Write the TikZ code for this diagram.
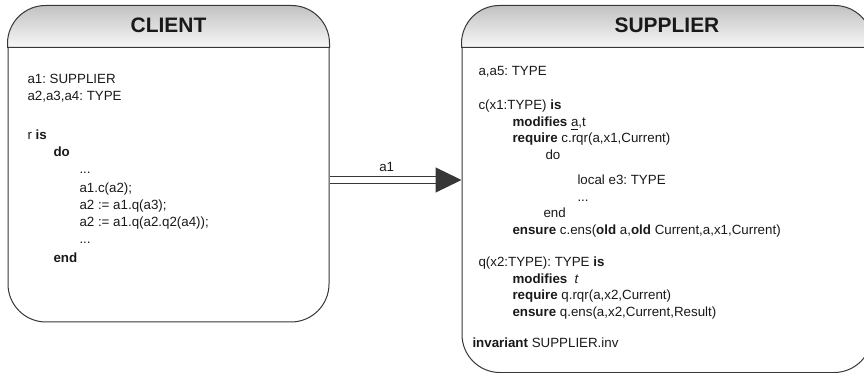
\documentclass[tikz,border=0pt]{standalone}
\usepackage{fontspec}
\setmainfont{Liberation Sans}
\usetikzlibrary{arrows.meta,positioning}
\frenchspacing

\tikzset{every picture/.style={line width=0.75pt}}
\definecolor{edge}{RGB}{55,55,55}
\definecolor{ink}{RGB}{25,25,25}
\tikzset{
  classbox/.style={draw=edge, rounded corners=28.5pt, inner sep=0pt},
  hdr/.style={top color=black!24, bottom color=black!3, draw=edge},
  title/.style={inner sep=0pt, text=ink, font=\fontsize{15.7}{18}\selectfont\bfseries},
  code/.style={anchor=base west, inner sep=0pt, text=ink, font=\fontsize{10}{12}\selectfont},
}

\begin{document}
\begin{tikzpicture}[x=0.75pt,y=0.75pt,yscale=-1,xscale=1]
\useasboundingbox (0,0) rectangle (864,373);

%Shape: Rounded boxes
\node [classbox, minimum width=240.75pt, minimum height=237pt] (client) at (168.5,164) {};
\node [classbox, minimum width=307.5pt, minimum height=274.9pt] (supplier) at (667,189.25) {};
%Shape: Header bands
\shade [hdr] ([yshift=31.5pt]client.north west) -- ([yshift=28.5pt]client.north west) arc [start angle=180, end angle=270, radius=28.5pt] -- ([xshift=-28.5pt]client.north east) arc [start angle=270, end angle=360, radius=28.5pt] -- ([yshift=31.5pt]client.north east) -- cycle;
\shade [hdr] ([yshift=31.5pt]supplier.north west) -- ([yshift=28.5pt]supplier.north west) arc [start angle=180, end angle=270, radius=28.5pt] -- ([xshift=-28.5pt]supplier.north east) arc [start angle=270, end angle=360, radius=28.5pt] -- ([yshift=31.5pt]supplier.north east) -- cycle;

% Titles
\node [title] (clientTitle) at ([yshift=15pt]client.north) {CLIENT};
\node [title] (supplierTitle) at ([yshift=15pt]supplier.north) {SUPPLIER};

%Straight Lines: association a1
\coordinate (arrowTip) at (supplier.west |- 0,180);
\coordinate (arrowBase) at ([xshift=-19.5pt]arrowTip);
\draw [edge, line width=0.9pt, double=white, double distance=4pt] (client.east |- 0,180) -- (arrowBase) node [pos=0.54, above=6pt, inner sep=0pt, text=ink, font=\fontsize{10}{12}\selectfont] (linkLabel) {a1};
\draw [edge, line width=0.9pt, -{Triangle[length=19.5pt,width=18.75pt]}] (arrowBase) -- (arrowTip);

% Text Node
\node [code] (c1) at (27,84) {a1: SUPPLIER};
% Text Node
\node [code] (c2) at (27,101) {a2,a3,a4: TYPE};
% Text Node
\node [code] (c3) at (27,140) {r \textbf{is}};
% Text Node
\node [code] (c4) at (53,157) {\textbf{do}};
% Text Node
\node [code] (c5) at (79,174) {...};
% Text Node
\node [code] (c6) at (79,193) {a1.c(a2);};
% Text Node
\node [code] (c7) at (79,210) {a2 := a1.q(a3);};
% Text Node
\node [code] (c8) at (79,227) {a2 := a1.q(a2.q2(a4));};
% Text Node
\node [code] (c9) at (79,244) {...};
% Text Node
\node [code] (c10) at (53,263) {\textbf{end}};

% Text Node
\node [code] (s1) at (478,76) {a,a5: TYPE};
% Text Node
\node [code] (s2) at (478,110) {c(x1:TYPE) \textbf{is}};
% Text Node
\node [code] (s3) at (512,127) {\textbf{modifies} \underline{a},t};
% Text Node
\node [code] (s4) at (512,143) {\textbf{require} c.rqr(a,x1,Current)};
% Text Node
\node [code] (s5) at (545,160) {do};
% Text Node
\node [code] (s6) at (577,185) {local e3: TYPE};
% Text Node
\node [code] (s7) at (577,202) {...};
% Text Node
\node [code] (s8) at (543,218) {end};
% Text Node
\node [code] (s9) at (512,235) {\textbf{ensure} c.ens(\textbf{old} a,\textbf{old} Current,a,x1,Current)};
% Text Node
\node [code] (s10) at (478,267) {q(x2:TYPE): TYPE \textbf{is}};
% Text Node
\node [code] (s11) at (512,284) {\textbf{modifies}\ \ \textit{t}};
% Text Node
\node [code] (s12) at (512,300) {\textbf{require} q.rqr(a,x2,Current)};
% Text Node
\node [code] (s13) at (512,317) {\textbf{ensure} q.ens(a,x2,Current,Result)};
% Text Node
\node [code] (s14) at (472,348) {\textbf{invariant} SUPPLIER.inv};

\end{tikzpicture}
\end{document}
